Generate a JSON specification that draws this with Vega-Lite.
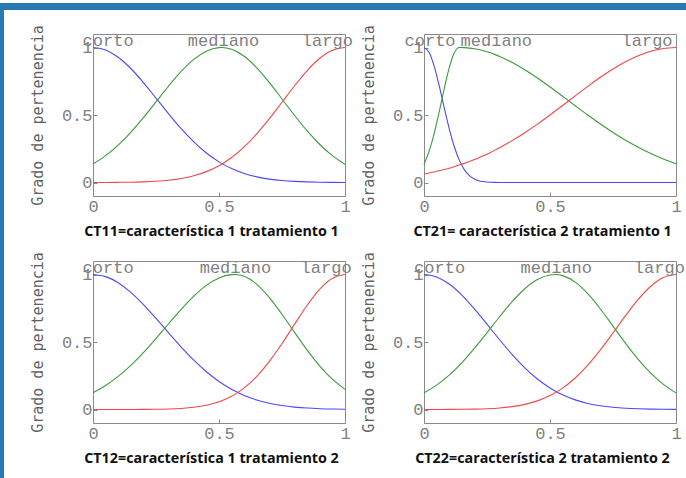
{
  "$schema": "https://vega.github.io/schema/vega-lite/v6.json",
  "padding": 0,
  "autosize": {"type": "pad"},
  "background": "white",
  "config": {
    "view": {"stroke": "#8a8a8a", "strokeWidth": 1},
    "axis": {"grid": false, "domain": false, "ticks": true, "tickSize": -4, "tickColor": "#8a8a8a", "labelFont": "Liberation Mono", "labelFontSize": 17, "labelColor": "#808080", "labelPadding": 6, "labelFlush": false},
    "axisX": {"titleFont": "Open Sans", "titleFontSize": 14.3, "titleFontWeight": "bold", "titleColor": "#111111", "titleX": 118, "titleY": 35, "titleBaseline": "middle"},
    "axisY": {"titleFont": "DejaVu Sans Mono", "titleFontSize": 15, "titleFontWeight": "normal", "titleColor": "#606060", "titleX": -56, "titleY": 81, "titleAngle": -90, "titleBaseline": "middle", "titleAlign": "center", "labelPadding": 5}
  },
  "datasets": {
    "ct11": [
      {"x": 0, "corto": 1, "mediano": 0.1374, "largo": 0.0002},
      {"x": 0.05, "corto": 0.9814, "mediano": 0.199, "largo": 0.0005},
      {"x": 0.1, "corto": 0.9276, "mediano": 0.2773, "largo": 0.0012},
      {"x": 0.15, "corto": 0.8445, "mediano": 0.372, "largo": 0.0024},
      {"x": 0.2, "corto": 0.7404, "mediano": 0.4804, "largo": 0.0048},
      {"x": 0.25, "corto": 0.6253, "mediano": 0.5971, "largo": 0.0092},
      {"x": 0.3, "corto": 0.5086, "mediano": 0.7143, "largo": 0.0169},
      {"x": 0.35, "corto": 0.3984, "mediano": 0.8226, "largo": 0.0296},
      {"x": 0.4, "corto": 0.3007, "mediano": 0.9118, "largo": 0.0498},
      {"x": 0.45, "corto": 0.2185, "mediano": 0.9729, "largo": 0.0805},
      {"x": 0.5, "corto": 0.1529, "mediano": 0.9992, "largo": 0.1246},
      {"x": 0.51, "corto": 0.1418, "mediano": 1, "largo": 0.1353},
      {"x": 0.55, "corto": 0.1031, "mediano": 0.9868, "largo": 0.1851},
      {"x": 0.6, "corto": 0.0669, "mediano": 0.9347, "largo": 0.2637},
      {"x": 0.65, "corto": 0.0418, "mediano": 0.8493, "largo": 0.3604},
      {"x": 0.7, "corto": 0.0252, "mediano": 0.7402, "largo": 0.4725},
      {"x": 0.75, "corto": 0.0146, "mediano": 0.6188, "largo": 0.5942},
      {"x": 0.8, "corto": 0.0082, "mediano": 0.4962, "largo": 0.7166},
      {"x": 0.85, "corto": 0.0044, "mediano": 0.3816, "largo": 0.8291},
      {"x": 0.9, "corto": 0.0023, "mediano": 0.2815, "largo": 0.9201},
      {"x": 0.95, "corto": 0.0011, "mediano": 0.1992, "largo": 0.9794},
      {"x": 1, "corto": 0.0005, "mediano": 0.1352, "largo": 1}
    ],
    "ct21": [
      {"x": 0, "corto": 1, "mediano": 0.1353, "largo": 0.0627},
      {"x": 0.02, "corto": 0.964, "mediano": 0.2301, "largo": 0.0699},
      {"x": 0.04, "corto": 0.8635, "mediano": 0.3604, "largo": 0.0779},
      {"x": 0.06, "corto": 0.7187, "mediano": 0.5204, "largo": 0.0865},
      {"x": 0.08, "corto": 0.5559, "mediano": 0.6926, "largo": 0.0959},
      {"x": 0.1, "corto": 0.3996, "mediano": 0.8493, "largo": 0.1061},
      {"x": 0.12, "corto": 0.2668, "mediano": 0.96, "largo": 0.117},
      {"x": 0.14, "corto": 0.1656, "mediano": 1, "largo": 0.1289},
      {"x": 0.16, "corto": 0.0955, "mediano": 0.9989, "largo": 0.1416},
      {"x": 0.18, "corto": 0.0512, "mediano": 0.9957, "largo": 0.1553},
      {"x": 0.2, "corto": 0.0255, "mediano": 0.9904, "largo": 0.1698},
      {"x": 0.22, "corto": 0.0118, "mediano": 0.9831, "largo": 0.1854},
      {"x": 0.24, "corto": 0.0051, "mediano": 0.9737, "largo": 0.2019},
      {"x": 0.26, "corto": 0.002, "mediano": 0.9623, "largo": 0.2194},
      {"x": 0.28, "corto": 0.0007, "mediano": 0.9491, "largo": 0.2379},
      {"x": 0.3, "corto": 0.0003, "mediano": 0.934, "largo": 0.2574},
      {"x": 0.35, "corto": 0, "mediano": 0.8891, "largo": 0.3102},
      {"x": 0.4, "corto": 0, "mediano": 0.835, "largo": 0.3689},
      {"x": 0.45, "corto": 0, "mediano": 0.7739, "largo": 0.4326},
      {"x": 0.5, "corto": 0, "mediano": 0.7078, "largo": 0.5003},
      {"x": 0.55, "corto": 0, "mediano": 0.6387, "largo": 0.5707},
      {"x": 0.6, "corto": 0, "mediano": 0.5688, "largo": 0.642},
      {"x": 0.65, "corto": 0, "mediano": 0.4998, "largo": 0.7123},
      {"x": 0.7, "corto": 0, "mediano": 0.4333, "largo": 0.7794},
      {"x": 0.75, "corto": 0, "mediano": 0.3707, "largo": 0.841},
      {"x": 0.8, "corto": 0, "mediano": 0.313, "largo": 0.8951},
      {"x": 0.85, "corto": 0, "mediano": 0.2607, "largo": 0.9396},
      {"x": 0.9, "corto": 0, "mediano": 0.2143, "largo": 0.9727},
      {"x": 0.95, "corto": 0, "mediano": 0.1738, "largo": 0.9931},
      {"x": 1, "corto": 0, "mediano": 0.1391, "largo": 1}
    ],
    "ct12": [
      {"x": 0, "corto": 1, "mediano": 0.1249, "largo": 0},
      {"x": 0.05, "corto": 0.9844, "mediano": 0.1778, "largo": 0},
      {"x": 0.1, "corto": 0.9391, "mediano": 0.245, "largo": 0.0001},
      {"x": 0.15, "corto": 0.8681, "mediano": 0.3265, "largo": 0.0003},
      {"x": 0.2, "corto": 0.7776, "mediano": 0.4212, "largo": 0.0007},
      {"x": 0.25, "corto": 0.675, "mediano": 0.5258, "largo": 0.0016},
      {"x": 0.3, "corto": 0.5679, "mediano": 0.6352, "largo": 0.0036},
      {"x": 0.35, "corto": 0.4629, "mediano": 0.7425, "largo": 0.0079},
      {"x": 0.4, "corto": 0.3657, "mediano": 0.84, "largo": 0.0161},
      {"x": 0.45, "corto": 0.2799, "mediano": 0.9196, "largo": 0.0312},
      {"x": 0.5, "corto": 0.2077, "mediano": 0.9743, "largo": 0.0569},
      {"x": 0.55, "corto": 0.1493, "mediano": 0.9989, "largo": 0.0981},
      {"x": 0.563, "corto": 0.1363, "mediano": 1, "largo": 0.1119},
      {"x": 0.6, "corto": 0.104, "mediano": 0.9864, "largo": 0.1597},
      {"x": 0.65, "corto": 0.0702, "mediano": 0.9272, "largo": 0.2454},
      {"x": 0.7, "corto": 0.0459, "mediano": 0.8292, "largo": 0.3563},
      {"x": 0.75, "corto": 0.0291, "mediano": 0.7054, "largo": 0.4884},
      {"x": 0.8, "corto": 0.0179, "mediano": 0.5709, "largo": 0.6321},
      {"x": 0.85, "corto": 0.0106, "mediano": 0.4396, "largo": 0.7726},
      {"x": 0.9, "corto": 0.0061, "mediano": 0.3219, "largo": 0.8917},
      {"x": 0.95, "corto": 0.0034, "mediano": 0.2243, "largo": 0.9717},
      {"x": 1, "corto": 0.0019, "mediano": 0.1487, "largo": 1}
    ],
    "ct22": [
      {"x": 0, "corto": 1, "mediano": 0.123, "largo": 0.0001},
      {"x": 0.05, "corto": 0.9818, "mediano": 0.1805, "largo": 0.0003},
      {"x": 0.1, "corto": 0.9292, "mediano": 0.2549, "largo": 0.0006},
      {"x": 0.15, "corto": 0.8478, "mediano": 0.3461, "largo": 0.0014},
      {"x": 0.2, "corto": 0.7456, "mediano": 0.4522, "largo": 0.003},
      {"x": 0.25, "corto": 0.6321, "mediano": 0.5684, "largo": 0.006},
      {"x": 0.3, "corto": 0.5165, "mediano": 0.6872, "largo": 0.0116},
      {"x": 0.35, "corto": 0.4069, "mediano": 0.7993, "largo": 0.0215},
      {"x": 0.4, "corto": 0.309, "mediano": 0.8944, "largo": 0.0379},
      {"x": 0.45, "corto": 0.2262, "mediano": 0.9627, "largo": 0.0639},
      {"x": 0.5, "corto": 0.1596, "mediano": 0.9969, "largo": 0.103},
      {"x": 0.52, "corto": 0.1374, "mediano": 1, "largo": 0.1231},
      {"x": 0.55, "corto": 0.1086, "mediano": 0.9918, "largo": 0.1586},
      {"x": 0.6, "corto": 0.0712, "mediano": 0.9434, "largo": 0.2334},
      {"x": 0.65, "corto": 0.045, "mediano": 0.8575, "largo": 0.3283},
      {"x": 0.7, "corto": 0.0274, "mediano": 0.7447, "largo": 0.4412},
      {"x": 0.75, "corto": 0.0161, "mediano": 0.618, "largo": 0.5665},
      {"x": 0.8, "corto": 0.0091, "mediano": 0.49, "largo": 0.6951},
      {"x": 0.85, "corto": 0.005, "mediano": 0.3713, "largo": 0.815},
      {"x": 0.9, "corto": 0.0026, "mediano": 0.2688, "largo": 0.9131},
      {"x": 0.95, "corto": 0.0013, "mediano": 0.1859, "largo": 0.9775},
      {"x": 1, "corto": 0.0006, "mediano": 0.1229, "largo": 1}
    ],
    "lab": [
      {"p": "CT11", "s": "corto", "x": 0.06, "y": 1.045},
      {"p": "CT11", "s": "mediano", "x": 0.518, "y": 1.045},
      {"p": "CT11", "s": "largo", "x": 0.93, "y": 1.045},
      {"p": "CT21", "s": "corto", "x": 0.024, "y": 1.045},
      {"p": "CT21", "s": "mediano", "x": 0.287, "y": 1.045},
      {"p": "CT21", "s": "largo", "x": 0.885, "y": 1.045},
      {"p": "CT12", "s": "corto", "x": 0.06, "y": 1.045},
      {"p": "CT12", "s": "mediano", "x": 0.565, "y": 1.045},
      {"p": "CT12", "s": "largo", "x": 0.925, "y": 1.045},
      {"p": "CT22", "s": "corto", "x": 0.062, "y": 1.045},
      {"p": "CT22", "s": "mediano", "x": 0.525, "y": 1.045},
      {"p": "CT22", "s": "largo", "x": 0.934, "y": 1.045}
    ]
  },
  "spacing": 0,
  "bounds": "flush",
  "vconcat": [
    {
      "width": 686, "height": 7,
      "view": {"fill": "#2a79b1", "stroke": null},
      "data": {"values": [{}]},
      "mark": {"type": "text"},
      "encoding": {"text": {"value": ""}}
    },
    {
      "spacing": 89,
      "bounds": "flush",
      "hconcat": [
        {
          "width": 4, "height": 471,
          "view": {"fill": "#2a79b1", "stroke": null},
          "data": {"values": [{}]},
          "mark": {"type": "text"},
          "encoding": {"text": {"value": ""}}
        },
        {
          "spacing": 0,
          "bounds": "flush",
          "vconcat": [
            {
              "width": 10, "height": 24,
              "view": {"stroke": null},
              "data": {"values": [{}]},
              "mark": {"type": "text"},
              "encoding": {"text": {"value": ""}}
            },
            {
              "columns": 2,
              "spacing": {"row": 65, "column": 79},
              "bounds": "flush",
              "concat": [
                {
                  "width": 252, "height": 162,
                  "layer": [
                    {
                      "data": {"name": "ct11"},
                      "transform": [{"fold": ["corto", "mediano", "largo"], "as": ["s", "y"]}],
                      "mark": {"type": "line", "interpolate": "monotone", "strokeWidth": 1.1},
                      "encoding": {
                        "x": {"field": "x", "type": "quantitative", "scale": {"domain": [0, 1], "nice": false, "zero": false}, "axis": {"title": "CT11=característica 1 tratamiento 1", "values": [0, 0.5, 1], "format": "~g"}},
                        "y": {"field": "y", "type": "quantitative", "scale": {"domain": [-0.1, 1.1], "nice": false, "zero": false}, "axis": {"title": "Grado de pertenencia", "values": [0, 0.5, 1], "format": "~g"}},
                        "color": {"field": "s", "type": "nominal", "scale": {"domain": ["corto", "mediano", "largo"], "range": ["#4a4af5", "#3c9a3c", "#f04848"]}, "legend": null}
                      }
                    },
                    {
                      "data": {"name": "lab"},
                      "transform": [{"filter": "datum.p == 'CT11'"}],
                      "mark": {"type": "text", "font": "Liberation Mono", "fontSize": 17, "color": "#808080", "baseline": "middle", "align": "center"},
                      "encoding": {"x": {"field": "x", "type": "quantitative"}, "y": {"field": "y", "type": "quantitative"}, "text": {"field": "s"}}
                    }
                  ]
                },
                {
                  "width": 252, "height": 162,
                  "layer": [
                    {
                      "data": {"name": "ct21"},
                      "transform": [{"fold": ["corto", "mediano", "largo"], "as": ["s", "y"]}],
                      "mark": {"type": "line", "interpolate": "monotone", "strokeWidth": 1.1},
                      "encoding": {
                        "x": {"field": "x", "type": "quantitative", "scale": {"domain": [0, 1], "nice": false, "zero": false}, "axis": {"title": "CT21= característica 2 tratamiento 1", "values": [0, 0.5, 1], "format": "~g"}},
                        "y": {"field": "y", "type": "quantitative", "scale": {"domain": [-0.1, 1.1], "nice": false, "zero": false}, "axis": {"title": "Grado de pertenencia", "values": [0, 0.5, 1], "format": "~g"}},
                        "color": {"field": "s", "type": "nominal", "scale": {"domain": ["corto", "mediano", "largo"], "range": ["#4a4af5", "#3c9a3c", "#f04848"]}, "legend": null}
                      }
                    },
                    {
                      "data": {"name": "lab"},
                      "transform": [{"filter": "datum.p == 'CT21'"}],
                      "mark": {"type": "text", "font": "Liberation Mono", "fontSize": 17, "color": "#808080", "baseline": "middle", "align": "center"},
                      "encoding": {"x": {"field": "x", "type": "quantitative"}, "y": {"field": "y", "type": "quantitative"}, "text": {"field": "s"}}
                    }
                  ]
                },
                {
                  "width": 252, "height": 162,
                  "layer": [
                    {
                      "data": {"name": "ct12"},
                      "transform": [{"fold": ["corto", "mediano", "largo"], "as": ["s", "y"]}],
                      "mark": {"type": "line", "interpolate": "monotone", "strokeWidth": 1.1},
                      "encoding": {
                        "x": {"field": "x", "type": "quantitative", "scale": {"domain": [0, 1], "nice": false, "zero": false}, "axis": {"title": "CT12=característica 1 tratamiento 2", "values": [0, 0.5, 1], "format": "~g"}},
                        "y": {"field": "y", "type": "quantitative", "scale": {"domain": [-0.1, 1.1], "nice": false, "zero": false}, "axis": {"title": "Grado de pertenencia", "values": [0, 0.5, 1], "format": "~g"}},
                        "color": {"field": "s", "type": "nominal", "scale": {"domain": ["corto", "mediano", "largo"], "range": ["#4a4af5", "#3c9a3c", "#f04848"]}, "legend": null}
                      }
                    },
                    {
                      "data": {"name": "lab"},
                      "transform": [{"filter": "datum.p == 'CT12'"}],
                      "mark": {"type": "text", "font": "Liberation Mono", "fontSize": 17, "color": "#808080", "baseline": "middle", "align": "center"},
                      "encoding": {"x": {"field": "x", "type": "quantitative"}, "y": {"field": "y", "type": "quantitative"}, "text": {"field": "s"}}
                    }
                  ]
                },
                {
                  "width": 252, "height": 162,
                  "layer": [
                    {
                      "data": {"name": "ct22"},
                      "transform": [{"fold": ["corto", "mediano", "largo"], "as": ["s", "y"]}],
                      "mark": {"type": "line", "interpolate": "monotone", "strokeWidth": 1.1},
                      "encoding": {
                        "x": {"field": "x", "type": "quantitative", "scale": {"domain": [0, 1], "nice": false, "zero": false}, "axis": {"title": "CT22=característica 2 tratamiento 2", "values": [0, 0.5, 1], "format": "~g"}},
                        "y": {"field": "y", "type": "quantitative", "scale": {"domain": [-0.1, 1.1], "nice": false, "zero": false}, "axis": {"title": "Grado de pertenencia", "values": [0, 0.5, 1], "format": "~g"}},
                        "color": {"field": "s", "type": "nominal", "scale": {"domain": ["corto", "mediano", "largo"], "range": ["#4a4af5", "#3c9a3c", "#f04848"]}, "legend": null}
                      }
                    },
                    {
                      "data": {"name": "lab"},
                      "transform": [{"filter": "datum.p == 'CT22'"}],
                      "mark": {"type": "text", "font": "Liberation Mono", "fontSize": 17, "color": "#808080", "baseline": "middle", "align": "center"},
                      "encoding": {"x": {"field": "x", "type": "quantitative"}, "y": {"field": "y", "type": "quantitative"}, "text": {"field": "s"}}
                    }
                  ]
                }
              ]
            }
          ]
        }
      ]
    }
  ]
}
